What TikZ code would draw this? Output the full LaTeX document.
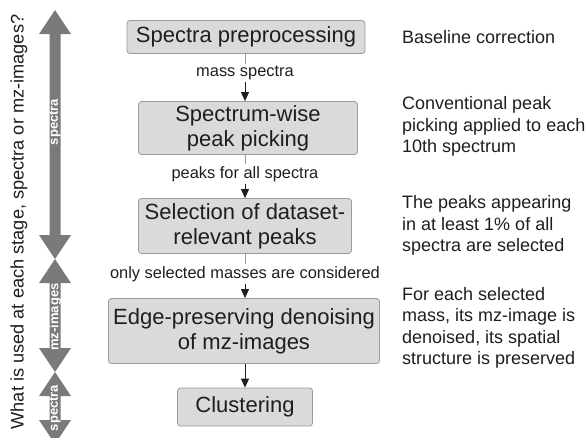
\documentclass[tikz,border=0pt]{standalone}
\usepackage{fontspec}
\setmainfont{Liberation Sans}
\usetikzlibrary{arrows.meta}
\definecolor{boxfill}{HTML}{DADADA}
\definecolor{boxline}{HTML}{9A9A9A}
\definecolor{bigarrow}{HTML}{7A7A7A}
\definecolor{ink}{HTML}{1E1E1E}
\tikzset{
  stagebox/.style={draw=boxline, fill=boxfill, rounded corners=3pt, line width=0.8pt,
    align=center, inner sep=0pt, text=ink, font=\fontsize{22}{25}\selectfont},
  flowlabel/.style={inner sep=2pt, text=ink, font=\fontsize{16.4}{19}\selectfont},
  note/.style={anchor=west, align=left, inner sep=0pt, text=ink, font=\fontsize{18}{21.5}\selectfont},
  upperline/.style={draw=gray!80, line width=0.8pt},
  flowarrow/.style={draw=ink, line width=0.8pt, -{Triangle[length=9pt,width=8pt]}},
  arrowtext/.style={rotate=90, text=white, font=\fontsize{13}{15}\selectfont\bfseries, inner sep=0pt},
}
% double-headed block arrow: centre x, top tip, bottom tip
\newcommand{\blockarrow}[3]{%
  \fill[bigarrow] (#1,#2) -- (#1+16,#2+24) -- (#1+5.5,#2+24) -- (#1+5.5,#3-24)
    -- (#1+16,#3-24) -- (#1,#3) -- (#1-16,#3-24) -- (#1-5.5,#3-24)
    -- (#1-5.5,#2+24) -- (#1-16,#2+24) -- cycle;}
\begin{document}
\begin{tikzpicture}[x=1pt, y=-1pt]
\useasboundingbox (0,0) rectangle (586,437);

% stages
\node[stagebox, minimum width=238pt, minimum height=33pt] (b1) at (246,37) {Spectra preprocessing};
\node[stagebox, minimum width=219pt, minimum height=53pt] (b2) at (248,128) {Spectrum-wise\\peak picking};
\node[stagebox, minimum width=213pt, minimum height=55pt] (b3) at (245,226) {Selection of dataset-\\relevant peaks};
\node[stagebox, minimum width=271pt, minimum height=65pt] (b4) at (244,331) {Edge-preserving denoising\\of mz-images};
\node[stagebox, minimum width=135pt, minimum height=38pt] (b5) at (245,407) {Clustering};

% connector labels
\node[flowlabel] (l1) at (245,73) {mass spectra};
\node[flowlabel] (l2) at (245,174) {peaks for all spectra};
\node[flowlabel] (l3) at (245,274) {only selected masses are considered};

% connectors
\path[upperline] (b1.south -| l1) -- (l1);
\draw[flowarrow] (l1) -- (b2.north -| l1);
\path[upperline] (b2.south -| l2) -- (l2);
\draw[flowarrow] (l2) -- (b3.north -| l2);
\path[upperline] (b3.south -| l3) -- (l3);
\draw[flowarrow] (l3) -- (b4.north -| l3);
\draw[flowarrow] (b4.south -| b5) -- (b5);

% notes
\node[note] (n1) at (402,37) {Baseline correction};
\node[note] (n2) at (402,126.5) {Conventional peak\\picking applied to each\\10th spectrum};
\node[note] (n3) at (402,225.5) {The peaks appearing\\in at least 1\% of all\\spectra are selected};
\node[note] (n4) at (402,328) {For each selected\\mass, its mz-image is\\denoised, its spatial\\structure is preserved};

% data-type arrows on the left
\blockarrow{55}{10}{259}
\blockarrow{55}{259}{372}
\blockarrow{55}{372}{444}
\node[arrowtext] (a1) at (55,122) {spectra};
\node[arrowtext] (a2) at (55,317) {mz-images};
\node[arrowtext] (a3) at (55,408) {spectra};

\node[rotate=90, text=ink, inner sep=0pt, font=\fontsize{18.2}{21.5}\selectfont] (q) at (19,222)
  {What is used at each stage, spectra or mz-images?};
\end{tikzpicture}
\end{document}
